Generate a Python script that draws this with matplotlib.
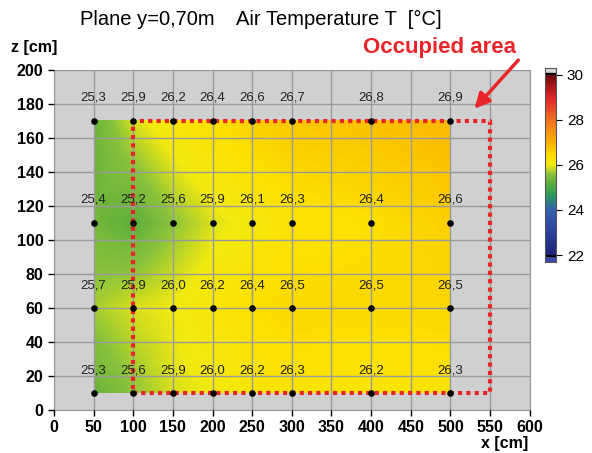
import numpy as np
import matplotlib
matplotlib.use("Agg")
import matplotlib.pyplot as plt
from matplotlib.colors import LinearSegmentedColormap

plt.rcParams['font.family'] = ['Liberation Sans', 'DejaVu Sans']

# ---- data ----
x_pos = [50, 100, 150, 200, 250, 300, 400, 500]
z_pos = [10, 60, 110, 170]
T_z10 = [25.3, 25.6, 25.9, 26.0, 26.2, 26.3, 26.2, 26.3]
T_z60 = [25.7, 25.9, 26.0, 26.2, 26.4, 26.5, 26.5, 26.5]
T_z110 = [25.4, 25.2, 25.6, 25.9, 26.1, 26.3, 26.4, 26.6]
T_z170 = [25.3, 25.9, 26.2, 26.4, 26.6, 26.7, 26.8, 26.9]
x_ticks = [0, 50, 100, 150, 200, 250, 300, 350, 400, 450, 500, 550, 600]
z_ticks = [0, 20, 40, 60, 80, 100, 120, 140, 160, 180, 200]
cbar_ticks = [22, 24, 26, 28, 30]
occ_x = [100, 550]
occ_z = [10, 170]

T = np.array([T_z10, T_z60, T_z110, T_z170])
xa = np.array(x_pos, float)
za = np.array(z_pos, float)

cmap = LinearSegmentedColormap.from_list("temp", [
    (0.0, "#1c2478"), (0.12, "#2d3f9e"), (0.25, "#3460b0"),
    (0.33, "#2a9a5a"), (0.40, "#5cae3c"), (0.45, "#8cc43a"),
    (0.5, "#f4ea10"), (0.55, "#fde000"), (0.62, "#fbb400"),
    (0.75, "#f0701e"), (0.87, "#e0282a"), (0.95, "#a01418"), (1.0, "#6a0c0c")])
vmin, vmax = 22, 30

fig = plt.figure(figsize=(5.92, 4.53), dpi=100)
ax = fig.add_axes([0.0912, 0.0949, 0.8035, 0.7506])
ax.set_facecolor("#d0d0d0")

# bilinear field
xf = np.linspace(xa[0], xa[-1], 451)
zf = np.linspace(za[0], za[-1], 161)
rows = np.array([np.interp(xf, xa, r) for r in T])
field = np.array([np.interp(zf, za, rows[:, j]) for j in range(len(xf))]).T
ax.imshow(field, extent=[xa[0], xa[-1], za[0], za[-1]], origin="lower",
          cmap=cmap, vmin=vmin, vmax=vmax, aspect="auto", interpolation="bilinear", zorder=1)

ax.set_xlim(0, 600)
ax.set_ylim(0, 200)
ax.set_xticks(x_ticks)
ax.set_yticks(z_ticks)
ax.grid(True, color="#9a9a9a", linewidth=1.0, zorder=2)
ax.set_axisbelow(False)
for s in ax.spines.values():
    s.set_color("#9a9a9a")
ax.tick_params(direction="out", length=4, width=1, colors="black", labelsize=11.5)
for lab in ax.get_xticklabels() + ax.get_yticklabels():
    lab.set_fontweight("bold")

# points and labels
XX, ZZ = np.meshgrid(xa, za)
ax.scatter(XX.ravel(), ZZ.ravel(), s=14, color="black", zorder=5)
for i, z in enumerate(z_pos):
    for j, x in enumerate(x_pos):
        ax.text(x, z + 10, f"{T[i, j]:.1f}".replace(".", ","), ha="center", va="bottom",
                fontsize=9.5, color="#222222", zorder=6)

# occupied area
ax.plot([occ_x[0], occ_x[1], occ_x[1], occ_x[0], occ_x[0]],
        [occ_z[0], occ_z[0], occ_z[1], occ_z[1], occ_z[0]],
        color="#e8262a", linewidth=3, linestyle=(0, (1, 1)), zorder=4, clip_on=False)

ax.annotate("", xy=(528, 176), xytext=(588, 207),
            arrowprops=dict(arrowstyle="-|>,head_width=0.45,head_length=0.9",
                        color="#e8262a", lw=2.5), annotation_clip=False, zorder=7)

fig.text(0.743, 0.895, "Occupied area", color="#e8262a", fontsize=16, fontweight="bold",
         ha="center", va="center")
fig.text(0.44, 0.958, "Plane y=0,70m    Air Temperature T  [°C]", fontsize=14.5,
         ha="center", va="center")
fig.text(0.018, 0.895, "z [cm]", fontsize=11.5, fontweight="bold", ha="left", va="center")
fig.text(0.893, 0.004, "x [cm]", fontsize=11.5, fontweight="bold", ha="right", va="bottom")

# colorbar
cax = fig.add_axes([0.921, 0.422, 0.019, 0.428])
ext_lo, ext_hi = 21.7, 30.3
vals = np.linspace(ext_lo, ext_hi, 400)
img = cmap((np.clip(vals, vmin, vmax) - vmin) / (vmax - vmin))
img[vals > 30.1] = matplotlib.colors.to_rgba("#d8d8d8")
img[vals < 21.9] = matplotlib.colors.to_rgba("#3a4aa8")
cax.imshow(img[:, None, :], extent=[0, 1, ext_lo, ext_hi], origin="lower", aspect="auto")
cax.axhline(30.05, color="black", lw=1.5)
cax.axhline(21.95, color="black", lw=1.5)
cax.set_xticks([])
cax.yaxis.tick_right()
cax.set_yticks(cbar_ticks)
cax.set_ylim(ext_lo, ext_hi)
cax.tick_params(direction="out", length=4, labelsize=11)
for s in cax.spines.values():
    s.set_color("#555555")

fig.savefig("out.png", dpi=100)
